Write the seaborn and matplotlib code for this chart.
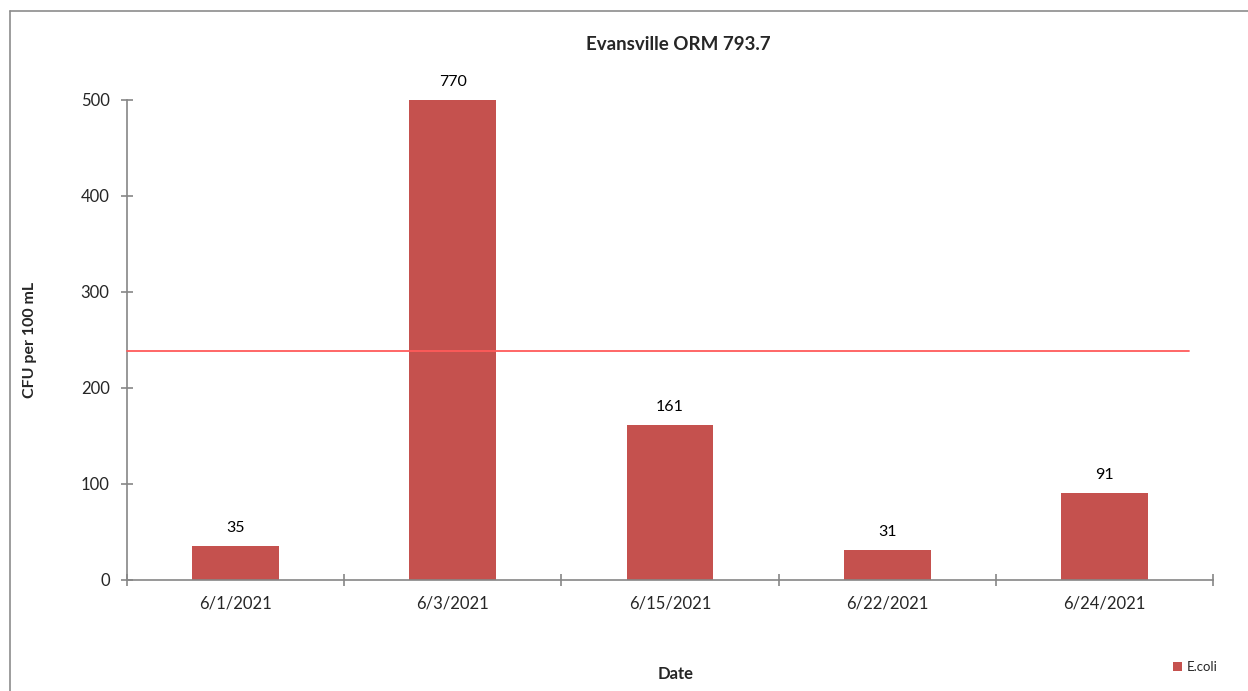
import matplotlib
matplotlib.use("Agg")
import matplotlib.pyplot as plt
from matplotlib.lines import Line2D
from matplotlib.patches import Patch
import seaborn as sns
import pandas as pd

# Data
dates = ['6/1/2021', '6/3/2021', '6/15/2021', '6/22/2021', '6/24/2021']
ecoli = [35, 770, 161, 31, 91]
standard_line = 239   # red reference line
y_max = 500

BAR_COLOR = '#C5514E'
AXIS_COLOR = '#868686'
LINE_COLOR = '#FF5A5A'

sns.set_theme(style="white")
plt.rcParams['font.family'] = ['Lato', 'DejaVu Sans']

df = pd.DataFrame({'Date': dates, 'E.coli': ecoli})

fig = plt.figure(figsize=(12.48, 6.91), dpi=100)
ax = fig.add_axes([127 / 1248, 1 - 580 / 691, (1213 - 127) / 1248, (580 - 100) / 691])

sns.barplot(data=df, x='Date', y='E.coli', color=BAR_COLOR, width=0.4,
            saturation=1, ax=ax, edgecolor='none')

ax.set_ylim(0, y_max)
ax.set_xlim(-0.5, len(dates) - 0.5)
ax.set_yticks(range(0, y_max + 1, 100))

# data labels (tall bar is clipped at the axis top)
for i, v in enumerate(ecoli):
    ax.annotate(f"{v}", (i, min(v, y_max)), textcoords="offset points",
                xytext=(0, 8), ha='center', va='bottom', fontsize=11.5,
                color='#000000', annotation_clip=False)

# red standard line, from the y-axis to near the right edge
ax.plot([-0.5, 4.39], [standard_line, standard_line], color=LINE_COLOR,
        linewidth=1.3, clip_on=False, zorder=3)

# axes styling in an Excel-like manner
for side in ['top', 'right']:
    ax.spines[side].set_visible(False)
for side in ['left', 'bottom']:
    ax.spines[side].set_color(AXIS_COLOR)
    ax.spines[side].set_linewidth(1.2)

ax.tick_params(axis='y', direction='inout', length=9, width=1.2, color=AXIS_COLOR,
               labelsize=12, pad=8, left=True)
ax.set_xticks(range(len(dates)))
ax.set_xticklabels(dates)
ax.set_xticks([i - 0.5 for i in range(len(dates) + 1)], minor=True)
ax.tick_params(axis='x', which='major', length=0, labelsize=12, pad=11)
ax.tick_params(axis='x', which='minor', direction='inout', length=9, width=1.2,
               color=AXIS_COLOR, bottom=True)

ax.set_xlabel('')
ax.set_ylabel('')
fig.text(678 / 1248, 1 - 45 / 691, 'Evansville ORM 793.7', ha='center', va='center',
         fontsize=13.5, fontweight='bold')
fig.text(30 / 1248, 1 - 340 / 691, 'CFU per 100 mL', ha='center', va='center',
         rotation=90, fontsize=11.5, fontweight='bold')
fig.text(676 / 1248, 1 - 674 / 691, 'Date', ha='center', va='center',
         fontsize=12, fontweight='bold')

# legend bottom right
handles = [Patch(facecolor=BAR_COLOR, edgecolor='none', label='E.coli')]
fig.legend(handles=handles, loc='center left', bbox_to_anchor=(1166 / 1248, 1 - 667 / 691),
           frameon=False, fontsize=9.5, handlelength=0.7, handleheight=0.7,
           handletextpad=0.4, borderpad=0)

# chart frame (left and top edges visible)
fig.add_artist(Line2D([10 / 1248, 10 / 1248], [0, 1 - 11 / 691], color='#8C8C8C',
                      linewidth=1.2, transform=fig.transFigure))
fig.add_artist(Line2D([10 / 1248, 1], [1 - 11 / 691, 1 - 11 / 691], color='#8C8C8C',
                      linewidth=1.2, transform=fig.transFigure))

fig.savefig('out.png', dpi=100)
plt.close(fig)
